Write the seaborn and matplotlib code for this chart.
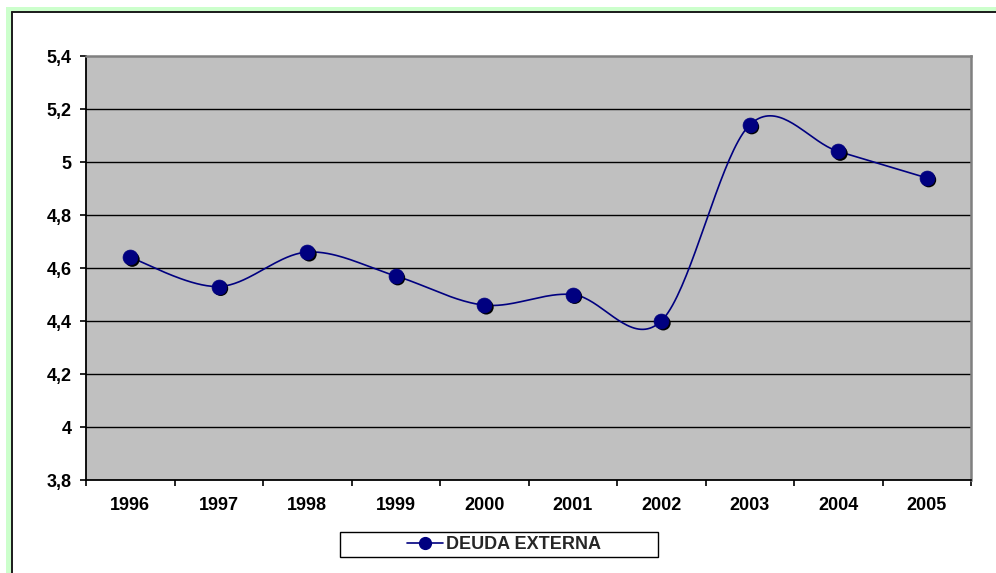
import numpy as np
import pandas as pd
import matplotlib
matplotlib.use("Agg")
import matplotlib.pyplot as plt
import matplotlib.transforms as mtransforms
from matplotlib.lines import Line2D
from matplotlib.patches import Rectangle
import seaborn as sns

# Series values
years = ["1996", "1997", "1998", "1999", "2000", "2001", "2002", "2003", "2004", "2005"]
deuda_externa = [4.64, 4.53, 4.66, 4.57, 4.46, 4.50, 4.40, 5.14, 5.04, 4.94]
series_name = "DEUDA EXTERNA"
y_ticks = [3.8, 4.0, 4.2, 4.4, 4.6, 4.8, 5.0, 5.2, 5.4]
y_tick_labels = ["3,8", "4", "4,2", "4,4", "4,6", "4,8", "5", "5,2", "5,4"]

sns.set_theme(style="white")
plt.rcParams["font.family"] = ["Liberation Sans", "DejaVu Sans"]
plt.rcParams["font.weight"] = "bold"

W, H = 996, 573
fig = plt.figure(figsize=(W / 100, H / 100), dpi=100)
fig.patch.set_facecolor("white")


def fx(px):
    return px / W


def fy(py):
    return 1 - py / H


# Chart frame: pale green band with a dark inner edge
fig.add_artist(Rectangle((fx(6), 0), fx(5), fy(7), transform=fig.transFigure,
                         facecolor="#ccffcc", edgecolor="none", zorder=0))
fig.add_artist(Rectangle((fx(6), fy(11.5)), 1 - fx(6), fy(7) - fy(11.5),
                         transform=fig.transFigure, facecolor="#ccffcc",
                         edgecolor="none", zorder=0))
fig.add_artist(Line2D([fx(11.5), fx(11.5)], [0, fy(11.5)], transform=fig.transFigure,
                      color="#1a1a1a", lw=1.4))
fig.add_artist(Line2D([fx(11.5), 1], [fy(11.5), fy(11.5)], transform=fig.transFigure,
                      color="#1a1a1a", lw=1.4))

# Plot area
left, top, right, bottom = 86, 56, 971, 480
ax = fig.add_axes([fx(left), fy(bottom), fx(right - left), (bottom - top) / H])
ax.set_facecolor("#c0c0c0")

n = len(years)
xs = np.arange(n) + 0.5
ys = np.array(deuda_externa)

# Smoothed line (cubic Bezier segments with Catmull-Rom style control points)
pts = np.column_stack([xs, ys])
ext = np.vstack([pts[0], pts, pts[-1]])
curve = []
t = np.linspace(0, 1, 40)[:, None]
for i in range(n - 1):
    p0 = ext[i + 1]
    p3 = ext[i + 2]
    c1 = p0 + (ext[i + 2] - ext[i]) / 6
    c2 = p3 - (ext[i + 3] - ext[i + 1]) / 6
    seg = ((1 - t) ** 3) * p0 + 3 * ((1 - t) ** 2) * t * c1 + 3 * (1 - t) * t ** 2 * c2 + t ** 3 * p3
    curve.append(seg if i == 0 else seg[1:])
curve = np.vstack(curve)
curve_df = pd.DataFrame({"x": curve[:, 0], "y": curve[:, 1]})
pts_df = pd.DataFrame({"x": xs, "y": ys})

for yv in y_ticks[1:-1]:
    ax.axhline(yv, color="black", lw=1.0, zorder=1)

sns.lineplot(data=curve_df, x="x", y="y", sort=False, color="#000080", lw=1.2,
             ax=ax, zorder=3, estimator=None)

# Marker shadows, then markers
shadow = mtransforms.offset_copy(ax.transData, fig=fig, x=2, y=-2, units="dots")
ax.scatter(xs, ys, s=115, color="black", edgecolor="none", transform=shadow, zorder=4)
sns.scatterplot(data=pts_df, x="x", y="y", s=115, color="#000080", edgecolor="#000080",
                linewidth=0.5, ax=ax, zorder=5, legend=False)

ax.set_xlim(0, n)
ax.set_ylim(3.8, 5.4)
ax.set_xlabel("")
ax.set_ylabel("")

ax.set_yticks(y_ticks)
ax.set_yticklabels(y_tick_labels, fontsize=13, fontweight="bold", color="black")
ax.set_xticks(xs)
ax.set_xticklabels(years, fontsize=13, fontweight="bold", color="black")
ax.set_xticks(np.arange(n + 1), minor=True)
ax.tick_params(axis="x", which="major", length=0, pad=12)
ax.tick_params(axis="x", which="minor", length=4, width=1.2, color="black", direction="out")
ax.tick_params(axis="y", which="major", length=4.5, width=1.2, color="black",
               direction="out", pad=6)
ax.yaxis.set_ticks_position("left")
ax.xaxis.set_ticks_position("bottom")

for side in ("left", "bottom"):
    ax.spines[side].set_color("black")
    ax.spines[side].set_linewidth(1.3)
for side in ("top", "right"):
    ax.spines[side].set_color("#808080")
    ax.spines[side].set_linewidth(1.8)

# Legend box with its entry
fig.add_artist(Rectangle((fx(340), fy(557)), fx(658 - 340), (557 - 532) / H,
                         transform=fig.transFigure, facecolor="white",
                         edgecolor="black", lw=1.0, zorder=5))
handle = Line2D([], [], color="#000080", lw=1.2, marker="o", markersize=8.5,
                markerfacecolor="#000080", markeredgecolor="#000080")
leg = fig.legend([handle], [series_name], loc="center left",
                 bbox_to_anchor=(fx(394), fy(544.5)), frameon=False,
                 prop={"family": "Liberation Sans", "weight": "bold", "size": 13},
                 handlelength=2.0, handletextpad=0.2, borderpad=0.2)
leg.set_zorder(6)

fig.savefig("out.png", dpi=100, facecolor=fig.get_facecolor())
